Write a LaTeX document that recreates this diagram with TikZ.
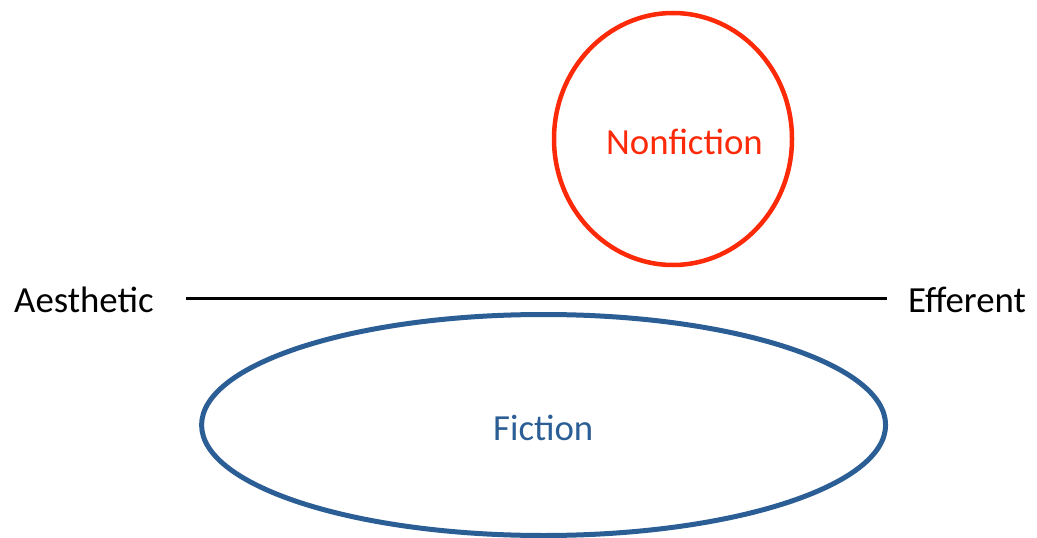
\documentclass[tikz,border=0pt]{standalone}
\usepackage{fontspec}
\setmainfont{Carlito}
\usepackage{tikz}
\usetikzlibrary{shapes.geometric}
\definecolor{nonfred}{RGB}{252,42,8}
\definecolor{ficblue}{RGB}{44,94,150}
\tikzset{
  label/.style={inner sep=0pt,anchor=base west,font=\fontsize{36.8}{40}\selectfont},
  blob/.style={ellipse,draw,inner sep=0pt}
}

\begin{document}
\begin{tikzpicture}[x=1pt,y=-1pt]
\useasboundingbox (0,0) rectangle (1037,538);
% the two kinds of text
\node[blob,nonfred,line width=4.5pt,minimum width=238pt,minimum height=252pt] (nonfic) at (673,139) {};
\node[blob,ficblue,line width=5pt,minimum width=684pt,minimum height=221pt] (fic) at (543.6,425) {};
\node[label,nonfred] (nonfictxt) at (606,154) {Nonfiction};
\node[label,ficblue] (fictxt) at (493,440) {Fiction};
% stance axis
\node[label] (aes) at (14,312) {Aesthetic};
\node[label] (eff) at (908,312) {Efferent};
\coordinate (axl) at (186,298); \coordinate (axr) at (887,298);
\draw[line width=3pt] (axl)--(axr);
\end{tikzpicture}
\end{document}
